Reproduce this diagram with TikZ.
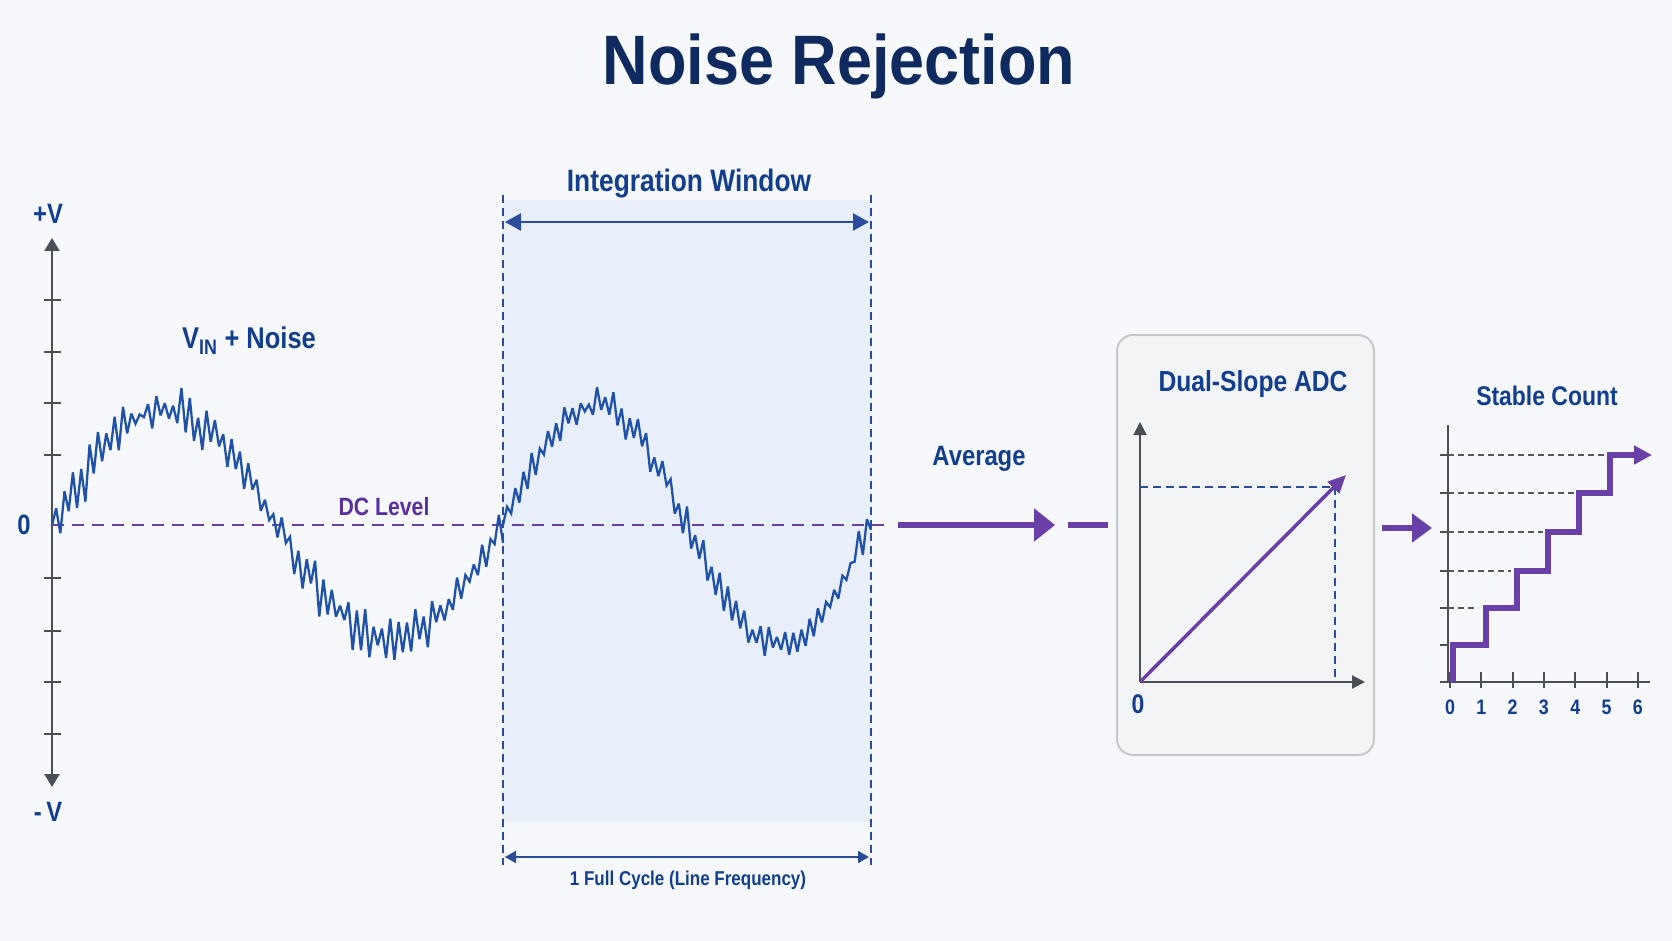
\documentclass[tikz,border=0pt]{standalone}
\usepackage{fontspec}
\setmainfont{Liberation Sans}
\newfontfamily\cond[FakeStretch=0.85]{Liberation Sans}
\newfontfamily\titlefont[FakeStretch=0.9]{Liberation Sans}
\usetikzlibrary{arrows.meta}
\definecolor{bgc}{HTML}{F6F8FB}
\definecolor{titlec}{HTML}{0E2A5E}
\definecolor{lblc}{HTML}{123E8E}
\definecolor{wavec}{HTML}{2052A8}
\definecolor{purp}{HTML}{6B3FA8}
\definecolor{purptext}{HTML}{5B2F9C}
\definecolor{axisc}{HTML}{4A4E55}
\definecolor{winfill}{HTML}{E8EEFA}
\definecolor{winline}{HTML}{2B4C9B}
\definecolor{boxfill}{HTML}{F3F4F6}
\definecolor{boxline}{HTML}{C5C8CD}
\definecolor{dashgray}{HTML}{55595F}
\begin{document}
\begin{tikzpicture}[x=1pt,y=-1pt,
  lbl/.style={text=lblc, inner sep=0pt, font={\cond\bfseries\fontsize{#1}{#1}\selectfont}},
  axisline/.style={draw=axisc, line width=2.2pt},
  wave/.style={draw=wavec, line width=2.3pt, line join=miter, miter limit=3},
  winedge/.style={draw=winline, line width=1.5pt, dash pattern=on 8pt off 5pt},
  dimarrow/.style={draw=winline, line width=2.5pt, {Triangle[length=16pt,width=17pt]}-{Triangle[length=16pt,width=17pt]}},
  dcline/.style={draw=purp, line width=2pt, dash pattern=on 12pt off 8pt},
  flow/.style={draw=purp, line width=6pt},
  tickline/.style={draw=axisc, line width=2pt},
  gdash/.style={draw=dashgray, line width=1.6pt, dash pattern=on 6pt off 4pt},
]
\useasboundingbox (0,0) rectangle (1672,941);
\fill[bgc] (0,0) rectangle (1672,941);

% title
\node[text=titlec, inner sep=0pt, font={\titlefont\bfseries\fontsize{70}{70}\selectfont}] (title) at (839,66) {Noise Rejection};

% integration window shading
\fill[winfill] (503,200) rectangle (871,822);
\coordinate (wtl) at (503,195); \coordinate (wbl) at (503,865);
\coordinate (wtr) at (871,195); \coordinate (wbr) at (871,865);
\draw[winedge] (wtl) -- (wbl);
\draw[winedge] (wtr) -- (wbr);
\coordinate (iwl) at (505,222); \coordinate (iwr) at (869,222);
\draw[dimarrow] (iwl) -- (iwr);
\node[lbl=31] (iwtext) at (689,184) {Integration Window};
\coordinate (fcl) at (505,857); \coordinate (fcr) at (869,857);
\draw[draw=winline, line width=2pt, {Triangle[length=11pt,width=12pt]}-{Triangle[length=11pt,width=12pt]}] (fcl) -- (fcr);
\node[lbl=20] (fctext) at (688,880) {1 Full Cycle (Line Frequency)};

% left axis
\coordinate (vtop) at (52,238); \coordinate (vbot) at (52,787);
\draw[axisline, {Triangle[length=13pt,width=15pt]}-{Triangle[length=13pt,width=15pt]}] (vtop) -- (vbot);
\foreach \yy in {300,352,403,455,578,631,682,734} \draw[tickline] (44,\yy) -- (61,\yy);
\node[lbl=28] (plusv) at (48,214) {+V};
\node[lbl=28] (minusv) at (48,812) {-\,V};
\node[lbl=28] (zero) at (24,525) {0};

% DC level
\coordinate (dcs) at (52,525); \coordinate (dce) at (890,525);
\draw[dcline] (dcs) -- (dce);
\node[lbl=25, text=purptext] (dctext) at (384,507) {DC Level};
\node[lbl=30] (vin) at (249,341) {V\textsubscript{IN} + Noise};

% waves (sine plus alternating random spikes)
\pgfmathsetseed{7}
\draw[wave] (52,525) \foreach \i in {1,...,108} {
  -- ({52+\i/108*451},{525-115*sin(\i/108*360)+(1-2*mod(\i,2))*(5+20*rnd)+4*rand}) };
\pgfmathsetseed{11}
\draw[wave] (503,525) \foreach \i in {1,...,90} {
  -- ({503+\i/90*368},{525-119*sin(\i/90*360)+(1-2*mod(\i,2))*(4+14*rnd)+3*rand}) };

% average arrow
\coordinate (avs) at (898,525); \coordinate (ave) at (1055,525);
\draw[flow, -{Triangle[length=21pt,width=32pt]}] (avs) -- (ave);
\node[lbl=28] (avg) at (979,459) {Average};
\coordinate (d1s) at (1068,525); \coordinate (d1e) at (1108,525);
\draw[flow] (d1s) -- (d1e);

% ADC box
\node[draw=boxline, fill=boxfill, line width=2pt, rounded corners=16pt, minimum width=257pt, minimum height=420pt, inner sep=0pt] (adc) at (1245.5,545) {};
\node[lbl=29] (adct) at (1253,384) {Dual-Slope ADC};
\coordinate (ao) at (1140,682); \coordinate (ay) at (1140,422); \coordinate (ax) at (1365,682);
\draw[axisline, -{Triangle[length=13pt,width=13pt]}] (ao) -- (ay);
\draw[axisline, -{Triangle[length=13pt,width=13pt]}] (ao) -- (ax);
\coordinate (ah) at (1140,487); \coordinate (ac) at (1335,487); \coordinate (ab) at (1335,682);
\draw[draw=winline, line width=1.6pt, dash pattern=on 8pt off 5pt] (ah) -- (ac) -- (ab);
\coordinate (atip) at (1346,475);
\draw[draw=purp, line width=3.5pt, -{Triangle[length=18pt,width=16pt]}] (ao) -- (atip);
\node[lbl=27] (adc0) at (1138,704) {0};

% arrow to stable count
\coordinate (a2s) at (1382,528); \coordinate (a2e) at (1432,528);
\draw[flow, -{Triangle[length=20pt,width=28pt]}] (a2s) -- (a2e);

% stable count
\node[lbl=27] (sct) at (1547,396) {Stable Count};
\coordinate (so) at (1448,682);
\draw[tickline] (1448,425) -- (1448,682);
\draw[tickline] (1440,682) -- (1650,682);
\foreach \yy in {645,608,571,532,493,455} \draw[tickline] (1440,\yy) -- (1448,\yy);
\foreach \k in {0,...,6} {
  \draw[tickline] ({1450+31.3*\k},672) -- ({1450+31.3*\k},688);
  \node[lbl=21] (s\k) at ({1450+31.3*\k},707) {\k};
}
\draw[gdash] (1448,608) -- (1478,608);
\draw[gdash] (1448,571) -- (1511,571);
\draw[gdash] (1448,532) -- (1543,532);
\draw[gdash] (1448,493) -- (1575,493);
\draw[gdash] (1448,455) -- (1606,455);
\coordinate (stend) at (1652,455);
\draw[draw=purp, line width=6pt, miter limit=4, -{Triangle[length=18pt,width=18pt]}]
  (1453,682) -- (1453,645) -- (1486,645) -- (1486,608) -- (1517,608) -- (1517,571)
  -- (1548,571) -- (1548,532) -- (1579,532) -- (1579,493) -- (1610,493) -- (1610,455) -- (stend);
\end{tikzpicture}
\end{document}
